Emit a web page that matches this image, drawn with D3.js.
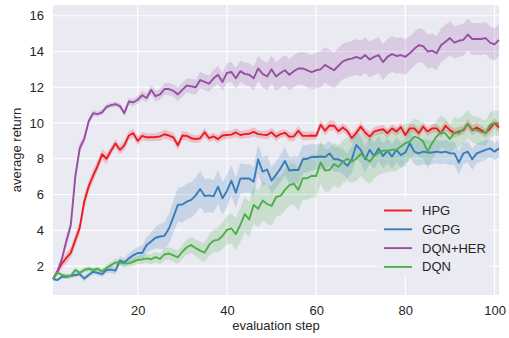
<!DOCTYPE html>
<html>
<head>
<meta charset="utf-8">
<script src="https://cdnjs.cloudflare.com/ajax/libs/d3/7.8.5/d3.min.js"></script>
<style>
  body { margin: 0; background: #fff; }
  svg { display: block; font-family: "Liberation Sans", Arial, sans-serif; }
</style>
</head>
<body>
<div class="wrapper"></div>
<script>
// evaluation steps 1..101
var steps = d3.range(1, 102);

var seriesNames = ["HPG", "GCPG", "DQN+HER", "DQN"];
var seriesColors = ["#ec1b23", "#377eb8", "#984ea3", "#4daf4a"];

var yTicks = [2, 4, 6, 8, 10, 12, 14, 16];
var xTicks = [20, 40, 60, 80, 100];

var hpg = [1.27, 1.7, 2.15, 2.45, 2.75, 3.45, 4.15, 5.6, 6.45, 7.05,
  7.6, 8.25, 8.0, 8.45, 8.85, 8.5, 8.75, 9.3, 9.43, 9.0,
  9.28, 9.2, 9.2, 9.22, 9.25, 9.37, 9.3, 9.2, 8.75, 9.3,
  9.28, 9.15, 9.1, 9.15, 9.48, 9.15, 9.25, 9.1, 9.3, 9.33,
  9.35, 9.47, 9.33, 9.38, 9.4, 9.5, 9.38, 9.35, 9.33, 9.48,
  9.24, 9.38, 9.45, 9.23, 9.25, 9.56, 9.28, 9.28, 9.3, 9.28,
  9.9, 9.57, 9.86, 9.85, 9.55, 9.75, 9.55, 9.15, 9.45, 9.8,
  9.47, 9.24, 9.52, 9.6, 9.65, 9.43, 9.7, 9.52, 9.77, 9.33,
  9.7, 9.7, 9.43, 9.8, 9.52, 9.7, 9.7, 9.43, 9.84, 9.6,
  9.43, 9.52, 9.6, 9.95, 9.6, 9.75, 9.6, 9.43, 9.7, 10.0, 9.75];

var hpgStd = [0.1, 0.2, 0.25, 0.3, 0.3, 0.35, 0.35, 0.4, 0.35, 0.35,
  0.3, 0.3, 0.3, 0.25, 0.25, 0.25, 0.28, 0.25, 0.25, 0.25,
  0.25, 0.22, 0.22, 0.22, 0.25, 0.25, 0.25, 0.25, 0.25, 0.25,
  0.25, 0.22, 0.22, 0.22, 0.25, 0.22, 0.22, 0.22, 0.25, 0.22,
  0.22, 0.25, 0.22, 0.22, 0.25, 0.25, 0.22, 0.22, 0.25, 0.25,
  0.25, 0.22, 0.22, 0.25, 0.25, 0.28, 0.25, 0.25, 0.22, 0.22,
  0.25, 0.28, 0.28, 0.28, 0.25, 0.25, 0.25, 0.28, 0.25, 0.25,
  0.25, 0.28, 0.25, 0.25, 0.25, 0.25, 0.25, 0.25, 0.25, 0.28,
  0.25, 0.25, 0.25, 0.25, 0.25, 0.25, 0.25, 0.28, 0.28, 0.25,
  0.25, 0.25, 0.25, 0.28, 0.28, 0.25, 0.25, 0.25, 0.28, 0.28, 0.25];

var gcpg = [1.27, 1.22, 1.4, 1.4, 1.45, 1.5, 1.55, 1.3, 1.5, 1.68,
  1.62, 1.55, 1.78, 1.8, 1.74, 2.3, 2.2, 2.43, 2.6, 2.73,
  2.73, 3.18, 3.37, 3.58, 3.65, 3.69, 4.1, 4.75, 5.42, 5.44,
  5.6, 5.7, 5.95, 6.31, 5.92, 5.95, 5.9, 6.44, 5.79, 6.2,
  6.78, 6.1, 6.9, 6.9, 6.9, 6.72, 7.97, 7.28, 7.4, 6.78,
  7.1, 7.45, 7.88, 7.34, 7.37, 7.37, 7.97, 8.0, 8.1, 8.1,
  8.13, 8.1, 8.3, 7.97, 7.97, 7.84, 7.6, 7.97, 8.77, 8.5,
  7.97, 8.5, 8.15, 8.58, 8.15, 8.45, 8.12, 8.5, 8.2, 8.35,
  8.87, 8.4, 8.3, 8.4, 8.35, 8.35, 8.4, 8.35, 8.4, 8.3,
  8.3, 7.79, 8.3, 8.4, 7.97, 8.3, 8.4, 8.5, 8.58, 8.4, 8.58];

var gcpgStd = [0.05, 0.08, 0.1, 0.12, 0.12, 0.12, 0.15, 0.15, 0.15, 0.15,
  0.15, 0.18, 0.18, 0.2, 0.2, 0.25, 0.25, 0.3, 0.3, 0.35,
  0.4, 0.45, 0.5, 0.6, 0.7, 0.75, 0.85, 0.9, 0.95, 1.0,
  1.0, 1.0, 1.0, 1.0, 0.95, 0.95, 0.9, 0.95, 0.9, 0.9,
  0.85, 0.85, 0.85, 0.8, 0.8, 0.8, 0.85, 0.8, 0.8, 0.75,
  0.75, 0.75, 0.8, 0.75, 0.75, 0.75, 0.8, 0.75, 0.75, 0.7,
  0.7, 0.7, 0.7, 0.7, 0.7, 0.7, 0.7, 0.75, 0.75, 0.75,
  0.75, 0.75, 0.75, 0.7, 0.7, 0.7, 0.7, 0.7, 0.7, 0.75,
  0.75, 0.7, 0.7, 0.7, 0.7, 0.65, 0.65, 0.65, 0.65, 0.65,
  0.65, 0.65, 0.6, 0.6, 0.6, 0.55, 0.55, 0.55, 0.5, 0.5, 0.5];

var dqnHer = [1.27, 1.7, 2.4, 3.4, 4.3, 7.0, 8.6, 9.1, 10.1, 10.55,
  10.5, 10.6, 10.9, 11.0, 11.05, 10.95, 10.55, 11.2, 11.15, 11.3,
  11.55, 11.4, 11.85, 11.5, 11.6, 11.9, 11.9, 11.8, 11.6, 11.85,
  12.1, 12.05, 12.0, 12.4, 12.3, 12.2, 12.5, 12.7, 12.3, 12.8,
  12.85, 12.5, 12.9, 12.75, 12.7, 12.5, 13.05, 12.75, 12.6, 13.0,
  12.6, 12.8, 12.95, 12.7, 12.9, 13.05, 13.05, 12.95, 12.85, 12.95,
  13.0, 13.25, 13.1, 12.95, 13.2, 13.45, 13.55, 13.6, 13.7, 13.6,
  13.8, 13.55, 13.7, 13.8, 13.4, 13.7, 13.85, 13.75, 13.8, 13.7,
  13.9, 14.15, 14.35, 14.3, 14.0, 14.05, 13.9, 14.35, 14.55, 14.75,
  14.5, 14.6, 14.65, 14.95, 14.7, 14.7, 14.7, 14.75, 14.5, 14.4, 14.65];

var dqnHerStd = [0.05, 0.1, 0.2, 0.3, 0.35, 0.35, 0.3, 0.25, 0.2, 0.18,
  0.15, 0.15, 0.15, 0.15, 0.15, 0.15, 0.18, 0.2, 0.2, 0.22,
  0.25, 0.25, 0.28, 0.3, 0.3, 0.32, 0.35, 0.35, 0.38, 0.4,
  0.4, 0.42, 0.42, 0.45, 0.45, 0.45, 0.48, 0.5, 0.5, 0.55,
  0.55, 0.6, 0.6, 0.62, 0.65, 0.68, 0.7, 0.75, 0.75, 0.78,
  0.8, 0.82, 0.85, 0.88, 0.9, 0.9, 0.92, 0.95, 0.95, 1.0,
  1.0, 1.0, 1.0, 1.0, 1.0, 1.0, 1.0, 1.0, 1.0, 1.0,
  1.0, 1.0, 1.0, 1.0, 1.0, 1.0, 1.0, 1.0, 1.0, 1.0,
  0.95, 0.95, 0.95, 0.95, 0.95, 0.95, 0.95, 0.95, 0.95, 0.95,
  0.9, 0.9, 0.9, 0.9, 0.9, 0.9, 0.9, 0.9, 0.9, 0.9, 0.9];

var dqn = [1.27, 1.63, 1.5, 1.42, 1.45, 1.78, 1.62, 1.78, 1.85, 1.78,
  1.85, 1.7, 1.9, 2.05, 2.2, 2.2, 2.15, 2.15, 2.24, 2.34,
  2.37, 2.43, 2.38, 2.5, 2.4, 2.65, 2.7, 2.6, 2.49, 2.8,
  3.05, 3.18, 3.0, 2.86, 2.75, 3.18, 3.42, 3.46, 3.68, 4.02,
  4.1, 3.79, 4.3, 4.9, 4.6, 5.42, 5.2, 5.66, 5.47, 5.36,
  5.85, 5.92, 6.26, 6.53, 6.6, 6.26, 6.91, 6.91, 7.04, 7.04,
  7.79, 7.34, 7.37, 7.7, 7.55, 7.84, 8.0, 7.84, 8.0, 8.27,
  8.06, 7.84, 8.15, 8.34, 8.45, 8.45, 8.5, 8.52, 8.68, 8.87,
  8.96, 9.24, 9.15, 8.96, 8.4, 8.87, 9.24, 9.52, 9.4, 9.1,
  9.47, 9.43, 9.65, 9.95, 9.65, 9.6, 9.5, 9.43, 9.9, 10.0, 9.97];

var dqnStd = [0.05, 0.1, 0.12, 0.15, 0.15, 0.15, 0.15, 0.15, 0.15, 0.15,
  0.15, 0.15, 0.18, 0.18, 0.2, 0.2, 0.2, 0.2, 0.22, 0.22,
  0.25, 0.25, 0.28, 0.3, 0.3, 0.32, 0.35, 0.35, 0.38, 0.4,
  0.42, 0.45, 0.48, 0.5, 0.55, 0.6, 0.65, 0.7, 0.75, 0.8,
  0.85, 0.9, 0.95, 1.0, 1.0, 1.05, 1.05, 1.1, 1.1, 1.1,
  1.1, 1.1, 1.15, 1.15, 1.15, 1.2, 1.2, 1.2, 1.2, 1.2,
  1.2, 1.2, 1.2, 1.2, 1.2, 1.2, 1.2, 1.2, 1.25, 1.25,
  1.25, 1.25, 1.25, 1.25, 1.25, 1.2, 1.2, 1.2, 1.15, 1.1,
  1.05, 1.0, 1.0, 0.95, 0.95, 0.9, 0.9, 0.9, 0.85, 0.85,
  0.85, 0.8, 0.8, 0.8, 0.75, 0.75, 0.75, 0.7, 0.7, 0.7, 0.7];

var seriesMeans = [hpg, gcpg, dqnHer, dqn];
var seriesStds = [hpgStd, gcpgStd, dqnHerStd, dqnStd];

var width = 509,
  height = 338,
  margin = {top: 5, right: 10, bottom: 43, left: 53},
  innerW = width - margin.left - margin.right,
  innerH = height - margin.top - margin.bottom;

var svg = d3.select(".wrapper").append("svg")
  .attr("width", width)
  .attr("height", height);

var g = svg.append("g")
  .attr("transform", "translate(" + margin.left + "," + margin.top + ")");

var x = d3.scaleLinear().domain([1, 101]).range([0, innerW]);
var y = d3.scaleLinear().domain([0.38, 16.6]).range([innerH, 0]);

// darkgrid background
g.append("rect")
  .attr("width", innerW)
  .attr("height", innerH)
  .attr("fill", "#eaeaf2");

g.append("g")
  .selectAll("line")
  .data(yTicks)
  .enter().append("line")
    .attr("x1", 0)
    .attr("x2", innerW)
    .attr("y1", function(d) { return y(d); })
    .attr("y2", function(d) { return y(d); })
    .attr("stroke", "#fff")
    .attr("stroke-width", 1.2);

g.append("g")
  .selectAll("line")
  .data(xTicks)
  .enter().append("line")
    .attr("y1", 0)
    .attr("y2", innerH)
    .attr("x1", function(d) { return x(d); })
    .attr("x2", function(d) { return x(d); })
    .attr("stroke", "#fff")
    .attr("stroke-width", 1.2);

var rows = seriesNames.map(function(name, k) {
  return steps.map(function(s, i) {
    return {step: s, mean: seriesMeans[k][i], sd: seriesStds[k][i]};
  });
});

var area = d3.area()
  .x(function(d) { return x(d.step); })
  .y0(function(d) { return y(d.mean - d.sd); })
  .y1(function(d) { return y(d.mean + d.sd); });

var line = d3.line()
  .x(function(d) { return x(d.step); })
  .y(function(d) { return y(d.mean); });

// bands under all lines
g.append("g")
  .selectAll("path")
  .data(rows)
  .enter().append("path")
    .attr("d", area)
    .attr("fill", function(d, i) { return seriesColors[i]; })
    .attr("fill-opacity", 0.2)
    .attr("stroke", "none");

g.append("g")
  .selectAll("path")
  .data(rows)
  .enter().append("path")
    .attr("d", line)
    .attr("fill", "none")
    .attr("stroke", function(d, i) { return seriesColors[i]; })
    .attr("stroke-width", 1.9)
    .attr("stroke-linejoin", "round");

// axes, no tick marks (seaborn style)
g.append("g")
  .attr("transform", "translate(0," + innerH + ")")
  .call(d3.axisBottom(x).tickValues(xTicks).tickSize(0).tickPadding(11))
  .call(function(a) { a.select(".domain").remove(); })
  .selectAll("text")
    .attr("font-size", 13)
    .attr("font-family", "Liberation Sans, Arial, sans-serif")
    .attr("fill", "#262626");

g.append("g")
  .call(d3.axisLeft(y).tickValues(yTicks).tickSize(0).tickPadding(9))
  .call(function(a) { a.select(".domain").remove(); })
  .selectAll("text")
    .attr("font-size", 13)
    .attr("font-family", "Liberation Sans, Arial, sans-serif")
    .attr("fill", "#262626");

svg.append("text")
  .attr("x", margin.left + innerW / 2)
  .attr("y", 330)
  .attr("text-anchor", "middle")
  .attr("font-size", 13)
  .attr("fill", "#262626")
  .text("evaluation step");

svg.append("text")
  .attr("transform", "translate(21," + (margin.top + innerH / 2) + ") rotate(-90)")
  .attr("text-anchor", "middle")
  .attr("font-size", 13)
  .attr("fill", "#262626")
  .text("average return");

// legend
var legend = svg.append("g");

legend.append("rect")
  .attr("x", 377)
  .attr("y", 197)
  .attr("width", 115)
  .attr("height", 80)
  .attr("rx", 3)
  .attr("fill", "#eaeaf2")
  .attr("fill-opacity", 0.8);

var item = legend.selectAll("g")
  .data(seriesNames)
  .enter().append("g")
    .attr("transform", function(d, i) { return "translate(0," + (210.5 + i * 18.8) + ")"; });

item.append("line")
  .attr("x1", 384)
  .attr("x2", 412)
  .attr("stroke", function(d, i) { return seriesColors[i]; })
  .attr("stroke-width", 1.9);

item.append("text")
  .attr("x", 422)
  .attr("dy", "0.35em")
  .attr("font-size", 13)
  .attr("fill", "#262626")
  .text(function(d) { return d; });
</script>
</body>
</html>
